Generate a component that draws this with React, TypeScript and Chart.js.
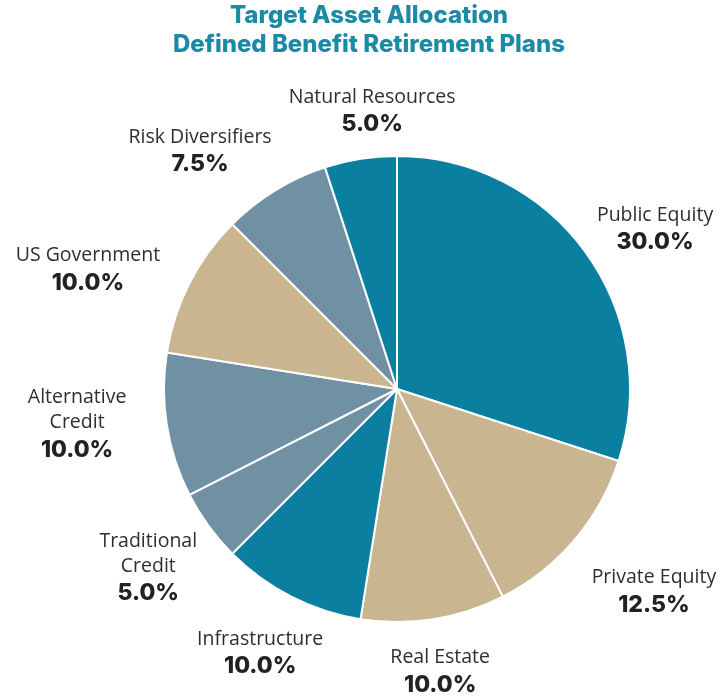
import React, { useEffect, useRef } from "react";
import { Chart, registerables } from "chart.js";

Chart.register(...registerables);

const categories = [
  "Public Equity",
  "Private Equity",
  "Real Estate",
  "Infrastructure",
  "Traditional\nCredit",
  "Alternative\nCredit",
  "US Government",
  "Risk Diversifiers",
  "Natural Resources",
];
const allocation = [30.0, 12.5, 10.0, 10.0, 5.0, 10.0, 10.0, 7.5, 5.0];
const titleLines = ["Target Asset Allocation", "Defined Benefit Retirement Plans"];

const TEAL = "#0a7fa0";
const TAN = "#c9b690";
const GRAY = "#7091a3";
const sliceColors = [TEAL, TAN, TAN, TEAL, GRAY, GRAY, TAN, GRAY, TEAL];

// label placement: [angle nudge in degrees, distance as a multiple of the outer radius]
const labelPlacement: [number, number][] = [
  [4.2, 1.303],
  [-2.3, 1.403],
  [0.3, 1.225],
  [0.4, 1.276],
  [0.4, 1.313],
  [2.8, 1.381],
  [-5.8, 1.423],
  [-8.1, 1.326],
  [3.9, 1.198],
];

const labelPlugin = {
  id: "outerLabels",
  afterDraw(chart: any) {
    const ctx = chart.ctx;
    ctx.save();
    // title
    ctx.fillStyle = "#1b8aa6";
    ctx.font = "800 24px Inter, 'Open Sans', sans-serif";
    ctx.textAlign = "center";
    ctx.textBaseline = "middle";
    ctx.fillText(titleLines[0], 369, 16);
    ctx.fillText(titleLines[1], 369, 45);

    const meta = chart.getDatasetMeta(0);
    meta.data.forEach((arc: any, i: number) => {
      const { x, y, startAngle, endAngle, outerRadius } = arc.getProps(
        ["x", "y", "startAngle", "endAngle", "outerRadius"],
        true
      );
      const [nudge, factor] = labelPlacement[i];
      const mid = (startAngle + endAngle) / 2 + (nudge * Math.PI) / 180;
      const r = outerRadius * factor;
      const lx = x + Math.cos(mid) * r;
      const ly = y + Math.sin(mid) * r;
      const nameLines = categories[i].split("\n");
      const lineGap = 25;
      const pctGap = 27;
      const blockH = (nameLines.length - 1) * lineGap + pctGap;
      let cy = ly - blockH / 2;
      ctx.fillStyle = "#2e2e2e";
      ctx.font = "400 19.5px 'Open Sans', Roboto, sans-serif";
      nameLines.forEach((ln: string, k: number) => {
        ctx.fillText(ln, lx, cy + k * lineGap);
      });
      ctx.fillStyle = "#222222";
      ctx.font = "800 23px Inter, 'Open Sans', sans-serif";
      ctx.fillText(
        allocation[i].toFixed(1) + "%",
        lx,
        cy + (nameLines.length - 1) * lineGap + pctGap
      );
    });
    ctx.restore();
  },
};

export default function App() {
  const ref = useRef<HTMLCanvasElement | null>(null);
  useEffect(() => {
    if (!ref.current) return;
    const chart = new Chart(ref.current, {
      type: "pie",
      data: {
        labels: categories,
        datasets: [
          {
            data: allocation,
            backgroundColor: sliceColors,
            borderColor: "#ffffff",
            borderWidth: 2,
            hoverOffset: 0,
          },
        ],
      },
      options: {
        animation: false,
        responsive: false,
        devicePixelRatio: 1,
        layout: { padding: { left: 163, right: 91, top: 155, bottom: 75 } },
        plugins: {
          legend: { display: false },
          title: { display: false },
          tooltip: { enabled: false },
        },
      },
      plugins: [labelPlugin],
    });
    return () => chart.destroy();
  }, []);
  return (
    <div style={{ position: "absolute", left: 0, top: 0, width: 722, height: 698, background: "#ffffff" }}>
      <canvas ref={ref} width={722} height={698} style={{ display: "block" }} />
    </div>
  );
}
